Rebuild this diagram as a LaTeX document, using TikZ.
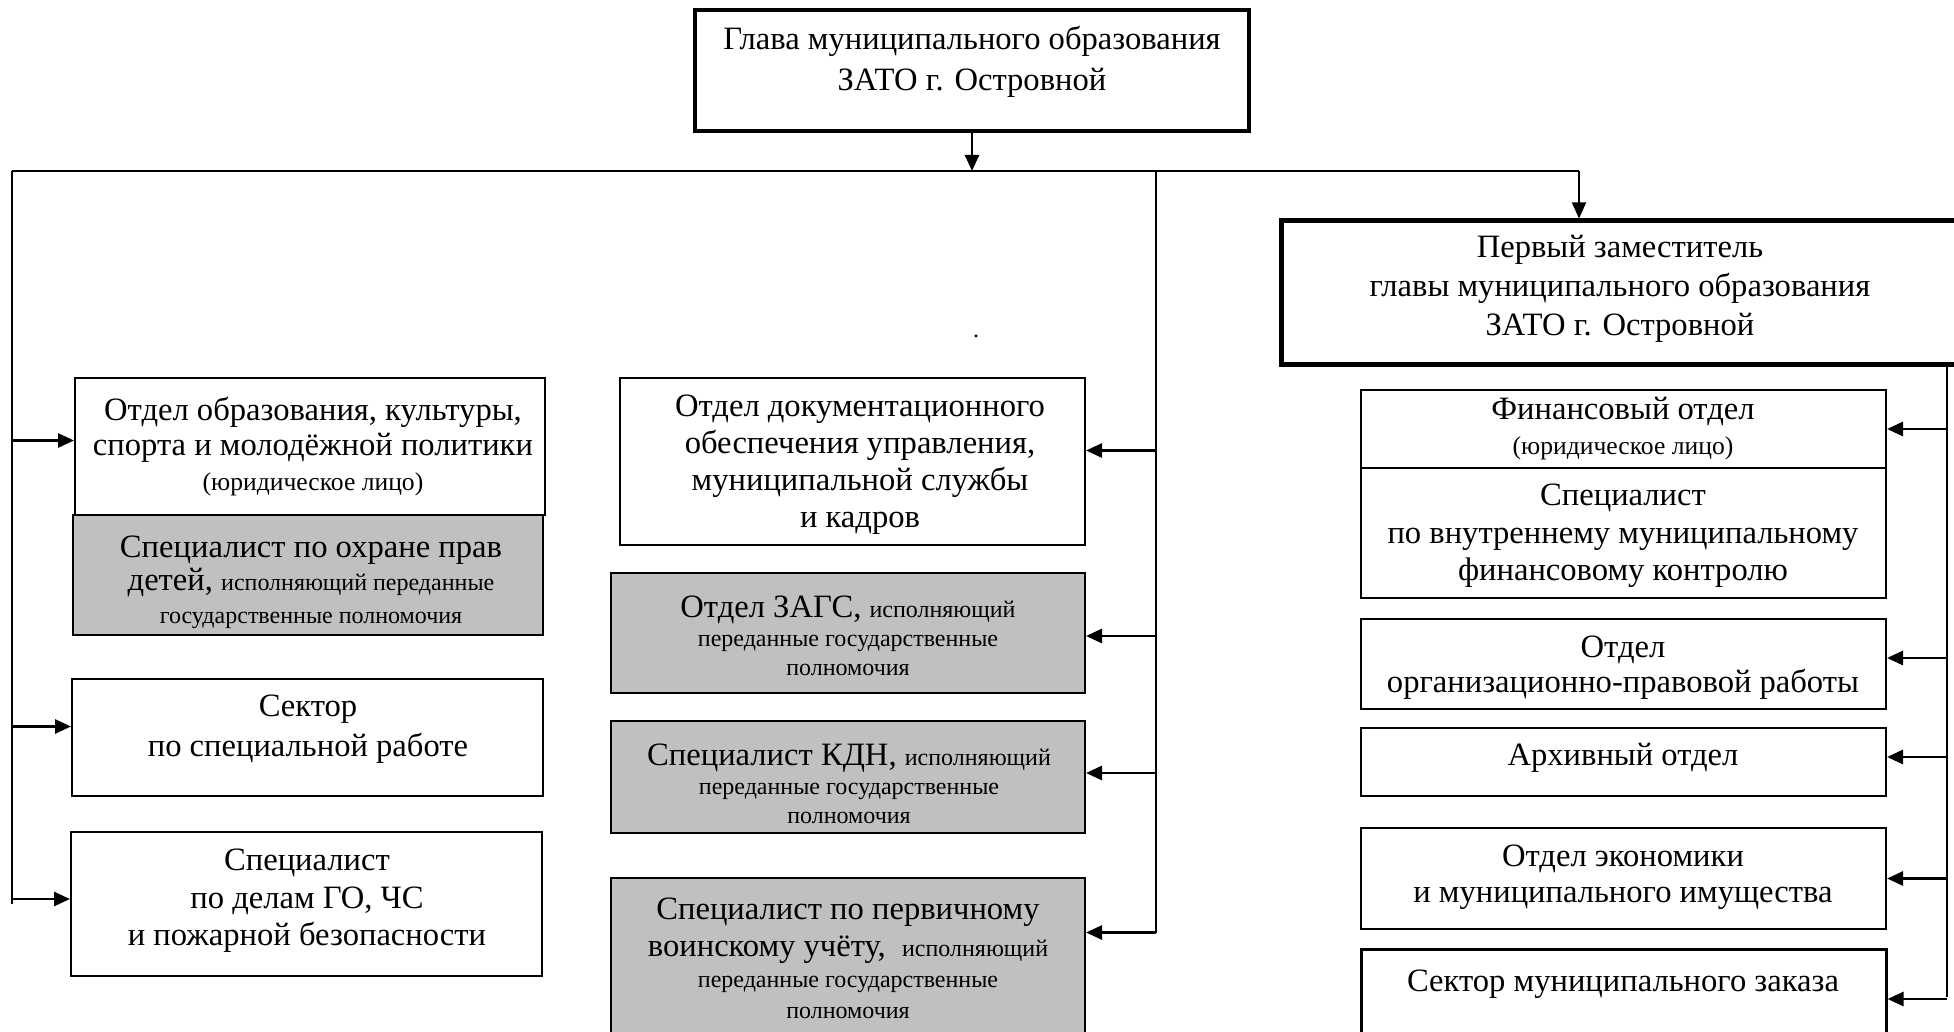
\documentclass[tikz,border=0pt]{standalone}
\usepackage{fontspec}
\setmainfont{Liberation Serif}
\usetikzlibrary{arrows.meta,fit,calc}
\newcommand{\sm}{\fontsize{12}{14}\selectfont}
\newcommand{\smj}{\fontsize{12.8}{14}\selectfont}
\tikzset{
  box/.style={draw, line width=1pt, inner sep=0pt},
  graybox/.style={box, fill=boxgray},
  txt/.style={align=center, inner sep=0pt, font=\fontsize{16.3}{18.5}\selectfont},
  arr/.style={line width=1.4pt, -{Triangle[length=8pt,width=7pt]}},
  bus/.style={line width=1pt},
}
\definecolor{boxgray}{HTML}{C0C0C0}
\begin{document}
\begin{tikzpicture}[x=0.5pt,y=-0.5pt]
\useasboundingbox (0,0) rectangle (1954,1032);
\clip (0,0) rectangle (1954,1032);
% boxes
\node[box, line width=2pt, fit={(695,10) (1249,131)}] (glava) {};
\node[box, line width=2.5pt, fit={(1281,221) (1962,364)}] (zam) {};
\node[box, fit={(75,378) (545,515)}] (obr) {};
\node[graybox, fit={(73,515) (543,635)}] (deti) {};
\node[box, fit={(72,679) (543,796)}] (sector) {};
\node[box, fit={(71,832) (542,976)}] (go) {};
\node[box, fit={(620,378) (1085,545)}] (doc) {};
\node[graybox, fit={(611,573) (1085,693)}] (zags) {};
\node[graybox, fit={(611,721) (1085,833)}] (kdn) {};
\node[graybox, fit={(611,878) (1085,1045)}] (voin) {};
\node[box, fit={(1361,390) (1886,468)}] (fin) {};
\node[box, fit={(1361,468) (1886,598)}] (finspec) {};
\node[box, fit={(1361,619) (1886,709)}] (org) {};
\node[box, fit={(1361,728) (1886,796)}] (arch) {};
\node[box, fit={(1361,828) (1886,929)}] (econ) {};
\node[box, line width=1.5pt, fit={(1361,949) (1886,1045)}] (zakaz) {};
% texts
\node[txt, font=\fontsize{16.3}{20.5}\selectfont] (tglava) at (972,62) {Глава муниципального образования\\ЗАТО г. Островной};
\node[txt, font=\fontsize{16.3}{19.5}\selectfont] (tzam) at (1620,289) {Первый заместитель\\главы муниципального образования\\ЗАТО г. Островной};
\node[txt, font=\fontsize{16.3}{17.5}\selectfont] (tobr) at (313,447) {Отдел образования, культуры,\\спорта и молодёжной политики\\{\smj (юридическое лицо)}};
\node[txt, font=\fontsize{16.3}{16.5}\selectfont] (tdeti) at (311,582) {Специалист по охране прав\\детей, {\sm исполняющий переданные}\\{\sm государственные полномочия}};
\node[txt, font=\fontsize{16.3}{20}\selectfont] (tsector) at (308,729) {Сектор\\по специальной работе};
\node[txt, font=\fontsize{16.3}{18.75}\selectfont] (tgo) at (307,901) {Специалист\\по делам ГО, ЧС\\и пожарной безопасности};
\node[txt, font=\fontsize{16.3}{18.5}\selectfont] (tdoc) at (860,465) {Отдел документационного\\обеспечения управления,\\муниципальной службы\\и кадров};
\node[txt, font=\fontsize{16.3}{14.5}\selectfont] (tzags) at (848,636) {Отдел ЗАГС, {\sm исполняющий}\\{\sm переданные государственные}\\{\sm полномочия}};
\node[txt, font=\fontsize{16.3}{14.5}\selectfont] (tkdn) at (849,784) {Специалист КДН, {\sm исполняющий}\\{\sm переданные государственные}\\{\sm полномочия}};
\node[txt, font=\fontsize{16.3}{15.5}\selectfont] (tvoin) at (848,958) {Специалист по первичному\\[3pt]воинскому учёту, \ {\sm исполняющий}\\{\sm переданные государственные}\\{\sm полномочия}};
\node[txt, font=\fontsize{16.3}{17.5}\selectfont] (tfin) at (1623,429) {Финансовый отдел\\{\smj (юридическое лицо)}};
\node[txt, font=\fontsize{16.3}{18.75}\selectfont] (tfinspec) at (1623,536) {Специалист\\по внутреннему муниципальному\\финансовому контролю};
\node[txt, font=\fontsize{16.3}{17.5}\selectfont] (torg) at (1623,668) {Отдел\\организационно-правовой работы};
\node[txt] (tarch) at (1623,758) {Архивный отдел};
\node[txt, font=\fontsize{16.3}{18}\selectfont] (tecon) at (1623,877) {Отдел экономики\\и муниципального имущества};
\node[txt] (tzakaz) at (1623,984) {Сектор муниципального заказа};
\node[txt, font=\sm] (dot) at (976,336) {.};
% bus coordinates
\coordinate (busy) at (0,171);
\coordinate (lv) at (12,0);
\coordinate (mv) at (1156,0);
\coordinate (rv) at (1947,0);
\coordinate (zx) at (1579,0);
\coordinate (lend) at (lv |- busy);
\coordinate (rend) at (zx |- busy);
\coordinate (mtop) at (mv |- busy);
% connectors
\draw[arr, line width=1.2pt] (glava.south) -- (glava.south |- busy);
\draw[bus] (lend) -- (rend);
\draw[arr, line width=0.9pt] (rend) -- (rend |- zam.north);
\draw[bus, line width=1.1pt] (lend) -- (lv |- go.west);
\draw[bus, line width=0.7pt] (mtop) -- ($(mv |- voin.east)+(0,-29)$);
\draw[bus, line width=1.1pt] (zam.south -| rv) -- (rv |- zakaz.east);
% left arrows
\draw[arr] ($(lv |- obr.west)+(0,-6)$) -- ($(obr.west)+(0,-6)$);
\draw[arr] ($(lv |- sector.west)+(0,-11)$) -- ($(sector.west)+(0,-11)$);
\draw[arr] ($(lv |- go.west)+(0,-5)$) -- ($(go.west)+(0,-5)$);
% middle arrows
\draw[arr] ($(mv |- doc.east)+(0,-11)$) -- ($(doc.east)+(0,-11)$);
\draw[arr] ($(mv |- zags.east)+(0,3)$) -- ($(zags.east)+(0,3)$);
\draw[arr] ($(mv |- kdn.east)+(0,-4)$) -- ($(kdn.east)+(0,-4)$);
\draw[arr] ($(mv |- voin.east)+(0,-29)$) -- ($(voin.east)+(0,-29)$);
% right arrows
\draw[arr] (rv |- fin.east) -- (fin.east);
\draw[arr] ($(rv |- org.east)+(0,-6)$) -- ($(org.east)+(0,-6)$);
\draw[arr] ($(rv |- arch.east)+(0,-5)$) -- ($(arch.east)+(0,-5)$);
\draw[arr] (rv |- econ.east) -- (econ.east);
\draw[arr] ($(rv |- zakaz.east)+(0,2)$) -- ($(zakaz.east)+(0,2)$);
\end{tikzpicture}
\end{document}
